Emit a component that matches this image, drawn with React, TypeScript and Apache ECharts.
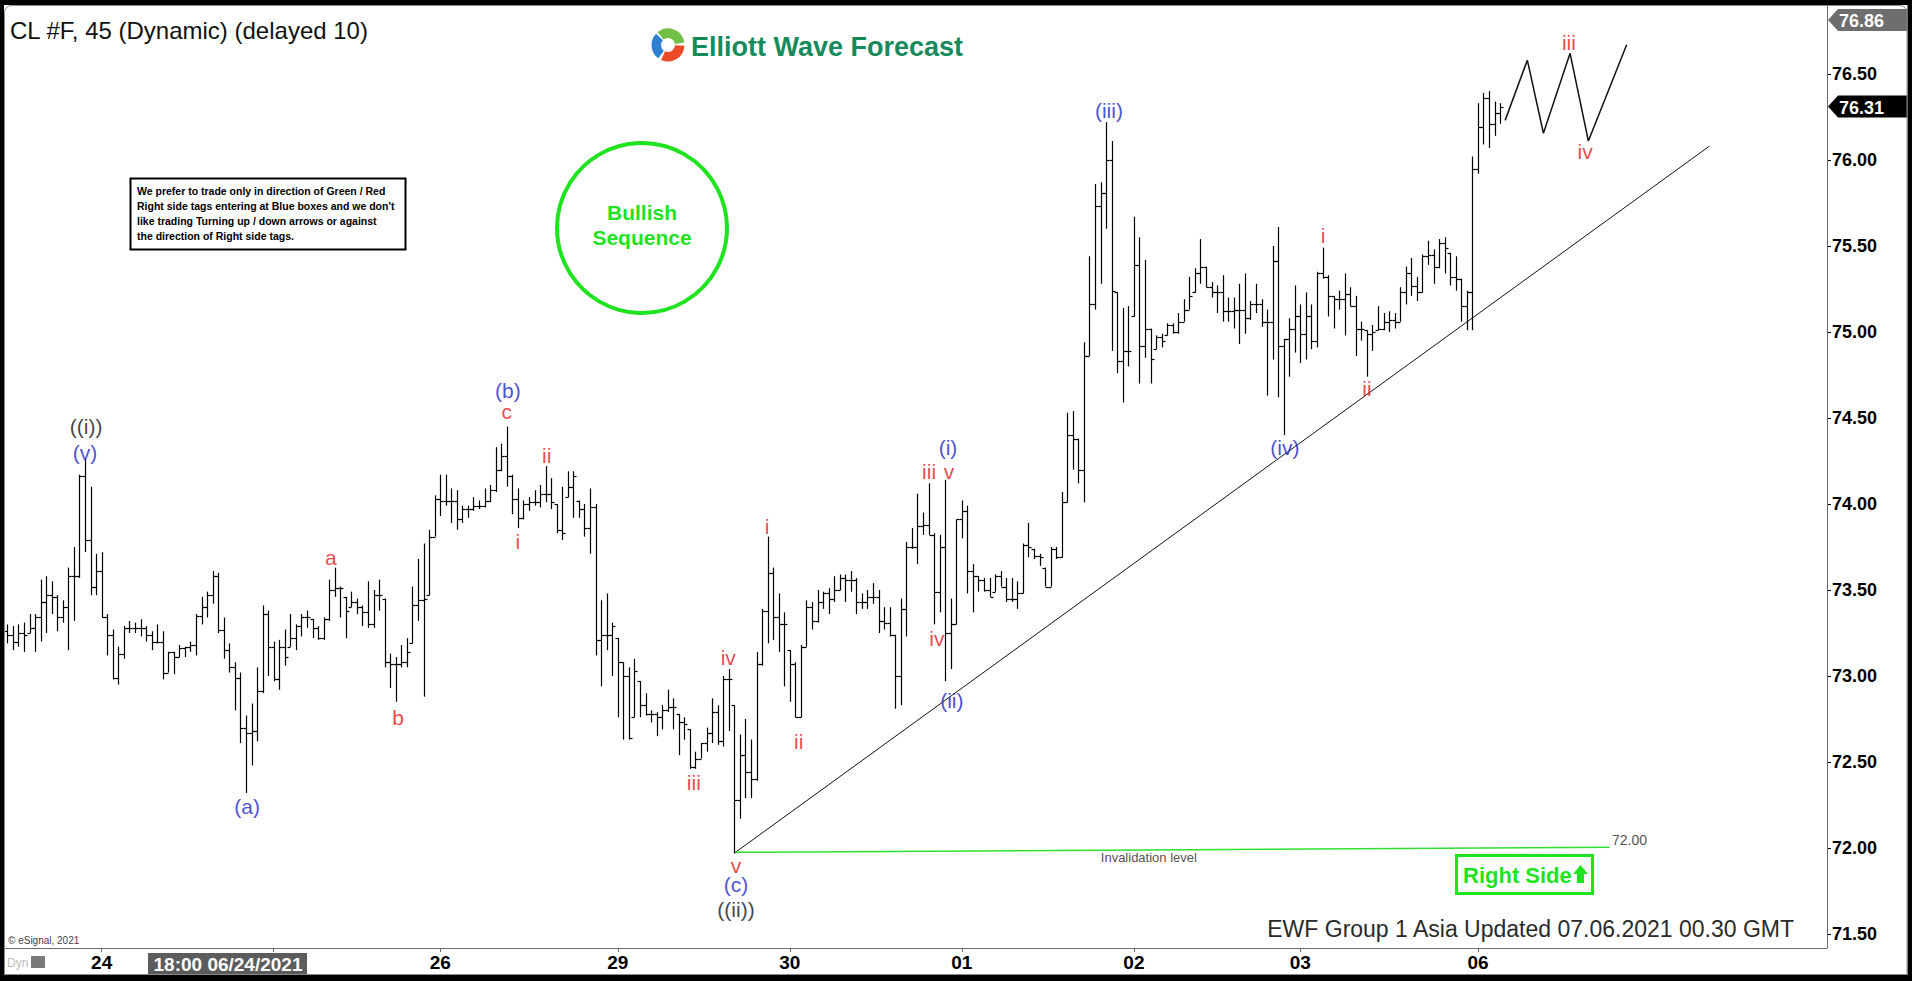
import React, { useEffect, useRef } from "react";
import * as echarts from "echarts";

const FONT = "'Liberation Sans', Arial, Helvetica, sans-serif";

// ---- OHLC bars (45 min), one entry per bar ----
const barOpen = [
73.26,73.24,73.20,73.25,73.25,73.28,73.34,73.43,73.47,73.46,73.34,73.40,73.58,73.58,74.16,73.79,73.52,73.61,73.34,73.24,
72.99,73.13,73.28,73.28,73.28,73.28,73.24,73.20,73.20,73.02,73.14,73.11,73.16,73.17,73.18,73.35,73.40,73.47,73.58,73.27,
73.15,73.05,72.99,72.70,72.67,72.68,72.91,73.36,73.17,72.98,73.17,73.17,73.22,73.29,73.34,73.33,73.28,73.22,73.33,73.50,
73.51,73.46,73.40,73.43,73.40,73.37,73.30,73.47,73.45,73.08,73.07,73.07,73.08,73.19,73.41,73.44,73.47,73.81,74.03,74.02,
74.02,74.02,73.91,73.97,73.97,73.99,73.99,74.02,74.08,74.20,74.28,74.16,74.03,73.92,74.00,74.01,74.01,74.06,74.06,74.00,
73.85,74.04,74.10,74.02,73.97,73.86,73.98,73.21,73.24,73.24,73.22,73.08,73.00,72.76,72.97,72.83,72.78,72.78,72.76,72.80,
72.82,72.78,72.73,72.69,72.47,72.52,72.61,72.67,72.79,72.62,72.98,72.83,72.28,72.54,72.44,72.40,73.07,73.38,73.60,73.34,
73.30,73.15,73.07,72.76,73.17,73.40,73.32,73.43,73.48,73.45,73.50,73.57,73.56,73.56,73.43,73.43,73.46,73.46,73.32,73.31,
73.24,73.00,73.39,73.75,73.75,73.87,73.88,73.82,73.49,73.75,73.25,73.30,73.91,73.96,73.61,73.58,73.56,73.50,73.49,73.58,
73.52,73.45,73.45,73.48,73.76,73.74,73.70,73.63,73.52,73.74,73.69,74.01,74.40,74.38,74.20,74.86,75.16,75.73,75.81,76.00,
75.23,74.83,74.89,75.09,75.39,74.92,75.02,74.90,74.97,74.98,75.04,75.00,75.06,75.13,75.23,75.34,75.38,75.26,75.23,75.23,
75.12,75.12,75.13,75.13,75.08,75.16,75.16,75.06,75.06,75.41,74.92,74.96,75.02,75.09,74.99,75.09,74.95,75.34,75.32,75.21,
75.19,75.19,75.22,75.15,75.02,75.01,74.99,75.01,75.02,75.06,75.07,75.06,75.23,75.34,75.27,75.23,75.44,75.45,75.38,75.52,
75.46,75.32,75.31,75.15,75.23,75.95,76.19,76.36,76.21,76.27];
const barHigh = [
73.30,73.29,73.30,73.31,73.36,73.36,73.56,73.58,73.55,73.47,73.44,73.63,73.75,74.17,74.26,74.10,73.71,73.72,73.36,73.27,
73.17,73.29,73.32,73.31,73.33,73.29,73.26,73.30,73.26,73.14,73.14,73.18,73.17,73.20,73.36,73.46,73.49,73.61,73.60,73.34,
73.19,73.08,73.02,72.77,72.84,73.05,73.41,73.38,73.20,73.21,73.27,73.36,73.30,73.36,73.38,73.33,73.29,73.34,73.56,73.63,
73.52,73.46,73.49,73.45,73.41,73.55,73.50,73.56,73.45,73.13,73.11,73.18,73.22,73.52,73.68,73.77,73.85,74.05,74.17,74.17,
74.09,74.08,73.99,73.99,74.04,74.02,74.09,74.11,74.33,74.35,74.45,74.17,74.09,74.02,74.04,74.08,74.11,74.22,74.15,74.00,
74.10,74.19,74.19,74.02,74.00,74.09,74.00,73.44,73.48,73.31,73.22,73.08,73.05,73.10,72.97,72.90,72.80,72.79,72.83,72.92,
72.87,72.78,72.76,72.69,72.56,72.61,72.70,72.87,72.83,73.00,73.04,72.83,72.66,72.75,72.63,73.14,73.39,73.81,73.63,73.48,
73.37,73.15,73.08,73.18,73.44,73.43,73.50,73.49,73.51,73.58,73.59,73.59,73.61,73.57,73.48,73.50,73.54,73.50,73.40,73.40,
73.24,73.45,73.78,73.86,74.06,73.95,74.12,73.83,73.82,74.14,73.45,73.91,74.02,73.99,73.65,73.58,73.57,73.57,73.59,73.61,
73.57,73.57,73.55,73.77,73.89,73.74,73.71,73.63,73.75,73.75,74.07,74.53,74.54,74.38,74.94,75.44,75.86,75.87,76.22,76.11,
75.23,75.14,75.15,75.67,75.55,75.42,75.02,74.98,74.99,75.05,75.05,75.11,75.19,75.32,75.37,75.54,75.38,75.29,75.27,75.33,
75.20,75.20,75.28,75.34,75.18,75.28,75.19,75.13,75.50,75.61,74.96,75.08,75.27,75.16,75.23,75.16,75.35,75.49,75.33,75.21,
75.24,75.34,75.26,75.21,75.06,75.01,75.04,75.15,75.11,75.12,75.11,75.26,75.38,75.43,75.32,75.45,75.53,75.48,75.54,75.55,
75.46,75.44,75.31,75.24,76.02,76.33,76.39,76.40,76.34,76.33];
const barLow = [
73.19,73.15,73.17,73.14,73.25,73.14,73.20,73.25,73.36,73.26,73.31,73.15,73.32,73.57,73.72,73.47,73.47,73.34,73.12,72.98,
72.95,73.10,73.25,73.25,73.23,73.20,73.15,73.19,72.98,73.02,73.01,73.11,73.11,73.14,73.12,73.30,73.34,73.42,73.25,73.10,
73.02,72.80,72.61,72.32,72.48,72.62,72.90,73.00,72.97,72.92,73.06,73.17,73.15,73.23,73.28,73.22,73.21,73.21,73.32,73.46,
73.34,73.22,73.40,73.36,73.29,73.28,73.28,73.38,73.05,72.93,72.85,73.05,73.05,73.19,73.32,72.88,73.47,73.81,73.93,73.99,
73.89,73.85,73.89,73.92,73.96,73.97,73.98,74.01,74.07,74.19,74.10,73.94,73.86,73.91,73.96,73.99,73.98,74.01,73.97,73.83,
73.79,74.04,73.92,73.92,73.81,73.71,73.12,72.94,73.15,73.00,72.76,72.63,72.63,72.76,72.76,72.77,72.73,72.65,72.69,72.79,
72.69,72.54,72.63,72.46,72.46,72.52,72.56,72.61,72.60,72.59,72.68,71.97,72.17,72.29,72.29,72.39,73.06,73.19,73.21,73.14,
72.94,72.85,72.76,72.76,73.17,73.27,73.31,73.39,73.36,73.43,73.50,73.43,73.49,73.36,73.39,73.39,73.42,73.25,73.27,73.23,
72.81,72.83,73.23,73.74,73.65,73.82,73.82,73.30,73.37,72.97,73.04,73.30,73.80,73.48,73.37,73.49,73.49,73.46,73.49,73.52,
73.43,73.43,73.39,73.48,73.69,73.68,73.64,73.52,73.52,73.68,73.69,74.01,74.20,74.12,74.01,74.86,75.13,75.28,75.60,74.89,
74.76,74.59,74.80,75.09,74.70,74.85,74.70,74.90,74.91,74.98,74.99,74.99,75.06,75.13,75.23,75.28,75.26,75.20,75.11,75.06,
75.06,75.02,74.93,74.99,75.07,75.11,75.03,74.63,74.84,74.62,74.40,74.74,74.88,74.82,74.84,74.90,74.91,75.31,75.09,75.02,
75.13,74.98,75.15,74.86,74.95,74.74,74.89,75.01,75.01,75.00,75.02,75.06,75.16,75.21,75.18,75.23,75.39,75.28,75.37,75.34,
75.27,75.24,75.06,75.01,75.01,75.92,76.09,76.07,76.14,76.21];
const barClose = [
73.24,73.20,73.25,73.24,73.28,73.34,73.43,73.47,73.46,73.34,73.40,73.58,73.58,74.16,73.79,73.52,73.61,73.34,73.24,72.99,
73.13,73.28,73.28,73.28,73.28,73.24,73.20,73.20,73.02,73.14,73.11,73.16,73.17,73.18,73.35,73.40,73.47,73.58,73.27,73.15,
73.05,72.99,72.70,72.67,72.68,72.91,73.36,73.17,72.98,73.17,73.11,73.22,73.29,73.34,73.34,73.28,73.22,73.33,73.50,73.51,
73.51,73.38,73.43,73.40,73.37,73.30,73.47,73.47,73.08,73.07,73.07,73.08,73.14,73.41,73.44,73.45,73.81,74.03,74.02,74.02,
74.02,73.91,73.97,73.97,73.99,73.99,74.02,74.08,74.20,74.28,74.16,74.03,73.92,74.00,74.01,74.01,74.06,74.06,74.01,73.85,
73.83,74.10,74.16,73.97,73.86,73.98,73.21,73.24,73.24,73.29,73.08,73.00,72.64,73.03,72.83,72.78,72.78,72.76,72.80,72.82,
72.82,72.73,72.72,72.47,72.52,72.61,72.67,72.79,72.62,72.98,72.98,72.28,72.54,72.44,72.40,73.07,73.38,73.60,73.34,73.30,
73.30,73.07,72.76,73.17,73.40,73.32,73.43,73.48,73.45,73.50,73.57,73.56,73.56,73.43,73.43,73.46,73.46,73.32,73.31,73.24,
73.00,73.39,73.75,73.75,73.87,73.88,73.82,73.49,73.75,73.25,73.30,73.91,73.96,73.61,73.58,73.56,73.50,73.46,73.58,73.52,
73.45,73.45,73.48,73.76,73.75,73.70,73.69,73.52,73.74,73.69,74.01,74.40,74.38,74.20,74.86,75.16,75.73,75.81,76.00,75.24,
74.83,74.89,74.89,75.39,74.92,75.02,74.84,74.97,74.95,75.04,75.00,75.06,75.13,75.21,75.34,75.38,75.26,75.23,75.23,75.12,
75.12,75.13,75.13,75.08,75.16,75.16,75.06,75.06,75.41,74.92,74.96,75.02,75.09,74.99,75.09,74.95,75.34,75.32,75.21,75.19,
75.19,75.22,75.15,75.02,75.02,74.99,75.00,75.02,75.06,75.07,75.06,75.23,75.34,75.27,75.23,75.44,75.45,75.38,75.52,75.49,
75.32,75.31,75.15,75.23,75.95,76.19,76.36,76.21,76.27,76.31];

// ---- x axis (bar index of each session start); the 25th label sits under the cursor box ----
const dayTickBars = [17, 48, 78, 110, 141, 172, 203, 233, 265];
const dayTickLabels = ["24", "", "26", "29", "30", "01", "02", "03", "06"];
const cursorLabel = "18:00 06/24/2021";

// ---- price tags ----
const highTagPrice = 76.86;
const lastPrice = 76.31;

// ---- Elliott wave labels ----
const waveText = ["((i))", "(v)", "(a)", "a", "b", "(b)", "c", "i", "ii", "iii", "iv", "v", "(c)", "((ii))",
  "i", "ii", "iii", "iv", "v", "(i)", "(ii)", "(iii)", "(iv)", "i", "ii", "iii", "iv"];
const waveBar = [14.2, 14.0, 43.2, 58.3, 70.4, 90.2, 90.0, 92.0, 97.2, 123.7, 129.9, 131.3, 131.3, 131.3,
  136.9, 142.6, 166.1, 167.5, 169.7, 169.5, 170.2, 198.5, 230.2, 237.1, 245.0, 281.4, 284.3];
const wavePrice = [74.45, 74.30, 72.24, 73.69, 72.76, 74.66, 74.54, 73.78, 74.28, 72.38, 73.11, 71.90, 71.785, 71.64,
  73.87, 72.62, 74.19, 73.22, 74.19, 74.33, 72.86, 76.285, 74.33, 75.56, 74.67, 76.68, 76.05];
const waveDegree = ["minor", "minute", "minute", "minuette", "minuette", "minute", "minuette", "minuette", "minuette",
  "minuette", "minuette", "minuette", "minute", "minor", "minuette", "minuette", "minuette", "minuette", "minuette",
  "minute", "minute", "minute", "minute", "minuette", "minuette", "minuette", "minuette"];
const degreeColor: Record<string, string> = { minor: "#111111", minute: "#1b22c6", minuette: "#e3161b" };

// ---- drawn lines ----
const trendBar = [131, 306.7];
const trendPrice = [71.97, 76.08];
const invalidationBar = [131.3, 288.7];
const invalidationPrice = [71.975, 72.005];
const projectionBar = [269.9, 273.9, 276.8, 281.6, 284.9, 291.8];
const projectionPrice = [76.23, 76.58, 76.155, 76.62, 76.11, 76.67];

const noteText = ["We prefer to trade only in direction of Green / Red",
  "Right side tags entering at Blue boxes and we don't",
  "like trading Turning up / down arrows or against",
  "the direction of Right side tags."];
const annotationText = ["72.00", "Invalidation level"];
const annotationBar = [292.3, 205.7];
const annotationPrice = [72.047, 71.942];
const annotationSize = [14, 13];

const GREEN = "#1ee31e";

function buildGraphic(chart: any) {
  const yOf = (v: number) => chart.convertToPixel({ yAxisIndex: 0 }, v) as number;
  const yHigh = Math.max(yOf(highTagPrice), 20);
  const yLast = yOf(lastPrice);
  const tag = (yc: number, fill: string, text: string) => [
    {
      type: "polygon", z: 150,
      shape: { points: [[1828, yc], [1838, yc - 11], [1907.5, yc - 11], [1907.5, yc + 11], [1838, yc + 11]] },
      style: { fill },
    },
    {
      type: "text", z: 151, x: 1839, y: yc + 1,
      style: { text, fill: "#fff", fontFamily: FONT, fontWeight: "bold", fontSize: 18, align: "left", verticalAlign: "middle" },
    },
  ];
  const cx = 668, cy = 45;
  return [
    // frame
    { type: "rect", z: 200, shape: { x: 0, y: 0, width: 1912, height: 5 }, style: { fill: "#000" } },
    { type: "rect", z: 200, shape: { x: 0, y: 0, width: 4, height: 981 }, style: { fill: "#000" } },
    { type: "rect", z: 200, shape: { x: 1907.5, y: 0, width: 4.5, height: 981 }, style: { fill: "#000" } },
    { type: "rect", z: 200, shape: { x: 0, y: 975, width: 1912, height: 6 }, style: { fill: "#000" } },
    { type: "rect", z: 201, shape: { x: 4.5, y: 5.5, width: 1902.5, height: 969, r: [7, 7, 0, 0] }, style: { fill: "none", stroke: "#8a8a8a", lineWidth: 1 } },
    { type: "line", z: 120, shape: { x1: 1827.5, y1: 5, x2: 1827.5, y2: 948 }, style: { stroke: "#6a6a6a", lineWidth: 1 } },
    // title
    { type: "text", z: 120, x: 10, y: 30, style: { text: "CL #F, 45 (Dynamic) (delayed 10)", fill: "#111", fontFamily: FONT, fontSize: 24, align: "left", verticalAlign: "middle" } },
    // logo
    { type: "sector", z: 120, shape: { cx, cy, r: 16.5, r0: 7, startAngle: -2.25, endAngle: -0.15 }, style: { fill: "#71bf45" } },
    { type: "sector", z: 120, shape: { cx, cy, r: 16.5, r0: 7, startAngle: 0.05, endAngle: 2.0 }, style: { fill: "#ec4a26" } },
    { type: "sector", z: 120, shape: { cx, cy, r: 16.5, r0: 7, startAngle: 2.2, endAngle: 3.9 }, style: { fill: "#2f7fd3" } },
    { type: "text", z: 120, x: 691, y: 47, style: { text: "Elliott Wave Forecast", fill: "#168a5a", fontFamily: FONT, fontWeight: "bold", fontSize: 27, align: "left", verticalAlign: "middle" } },
    // note box
    { type: "rect", z: 120, shape: { x: 130.5, y: 178.5, width: 275, height: 71 }, style: { fill: "#fff", stroke: "#000", lineWidth: 2 } },
    { type: "text", z: 121, x: 137, y: 183, style: { text: noteText.join("\n"), fill: "#000", fontFamily: FONT, fontWeight: "bold", fontSize: 10.5, lineHeight: 15, align: "left", verticalAlign: "top" } },
    // bullish sequence
    { type: "circle", z: 120, shape: { cx: 642, cy: 228, r: 85 }, style: { fill: "none", stroke: GREEN, lineWidth: 4 } },
    { type: "text", z: 121, x: 642, y: 225, style: { text: "Bullish\nSequence", fill: GREEN, fontFamily: FONT, fontWeight: "bold", fontSize: 21, lineHeight: 25, align: "center", verticalAlign: "middle" } },
    // right side tag
    { type: "rect", z: 120, shape: { x: 1456.5, y: 855.5, width: 136, height: 38 }, style: { fill: "#fff", stroke: GREEN, lineWidth: 3 } },
    { type: "text", z: 121, x: 1463, y: 875, style: { text: "Right Side", fill: GREEN, fontFamily: FONT, fontWeight: "bold", fontSize: 22, align: "left", verticalAlign: "middle" } },
    { type: "polygon", z: 121, shape: { points: [[1573, 874], [1580.5, 865], [1588, 874], [1584, 874], [1584, 883], [1577, 883], [1577, 874]] }, style: { fill: GREEN } },
    // update stamp
    { type: "text", z: 120, x: 1794, y: 929, style: { text: "EWF Group 1 Asia Updated 07.06.2021 00.30 GMT", fill: "#2a2a2a", fontFamily: FONT, fontSize: 23, align: "right", verticalAlign: "middle", textShadowColor: "#b0b0b0", textShadowOffsetX: 2, textShadowOffsetY: 2, textShadowBlur: 0 } },
    { type: "text", z: 120, x: 8, y: 940, style: { text: "© eSignal, 2021", fill: "#444", fontFamily: FONT, fontSize: 10, align: "left", verticalAlign: "middle" } },
    // bottom-left
    { type: "text", z: 120, x: 7, y: 963, style: { text: "Dyn", fill: "#bdbdbd", fontFamily: FONT, fontSize: 12, align: "left", verticalAlign: "middle" } },
    { type: "rect", z: 120, shape: { x: 31, y: 956, width: 14, height: 12 }, style: { fill: "#7a7a7a" } },
    { type: "rect", z: 150, shape: { x: 148, y: 953, width: 159, height: 22 }, style: { fill: "#5c5c5c" } },
    { type: "text", z: 151, x: 228, y: 964.5, style: { text: cursorLabel, fill: "#fff", fontFamily: FONT, fontWeight: "bold", fontSize: 19, align: "center", verticalAlign: "middle" } },
    ...tag(yHigh, "#6e6e6e", highTagPrice.toFixed(2)),
    ...tag(yLast, "#000", lastPrice.toFixed(2)),
  ];
}

export default function App() {
  const ref = useRef<HTMLDivElement>(null);
  useEffect(() => {
    if (!ref.current) return;
    const chart = echarts.init(ref.current, null, { renderer: "svg" });
    const bars = barOpen.map((o, i) => [i, o, barHigh[i], barLow[i], barClose[i]]);
    const waves = waveText.map((t, i) => ({
      name: t,
      value: [waveBar[i], wavePrice[i]],
      label: { color: degreeColor[waveDegree[i]] },
    }));
    const notes = annotationText.map((t, i) => ({
      name: t,
      value: [annotationBar[i], annotationPrice[i]],
      label: { fontSize: annotationSize[i] },
    }));
    const option: any = {
      animation: false,
      backgroundColor: "#fff",
      grid: { left: 4, right: 85, top: 12, bottom: 47 },
      xAxis: {
        type: "value", min: -0.6, max: 327.9, offset: 14,
        axisLine: { show: true, onZero: false, lineStyle: { color: "#6a6a6a", width: 1 } },
        axisTick: { show: true, customValues: dayTickBars, length: 4, lineStyle: { color: "#6a6a6a" } },
        axisLabel: {
          show: true, customValues: dayTickBars, margin: 5,
          formatter: (v: number) => { const k = dayTickBars.indexOf(Math.round(v)); return k >= 0 ? dayTickLabels[k] : ""; },
          fontFamily: FONT, fontWeight: "bold", fontSize: 19, color: "#000",
        },
        splitLine: { show: false },
      },
      yAxis: {
        type: "value", position: "right", min: 71.5, max: highTagPrice, interval: 0.5,
        axisLine: { show: false, onZero: false },
        axisTick: { show: true, length: 4, lineStyle: { color: "#000" } },
        axisLabel: {
          margin: 5, fontFamily: FONT, fontWeight: "bold", fontSize: 18, color: "#000", showMaxLabel: false,
          formatter: (v: number) => (Math.abs(v * 2 - Math.round(v * 2)) < 1e-6 ? v.toFixed(2) : ""),
        },
        splitLine: { show: false },
      },
      series: [
        {
          type: "custom", name: "CL #F", data: bars, encode: { x: 0, y: [1, 2, 3, 4] }, z: 5,
          renderItem: (params: any, api: any) => {
            const x = api.value(0);
            const hi = api.coord([x, api.value(2)]);
            const lo = api.coord([x, api.value(3)]);
            const op = api.coord([x, api.value(1)]);
            const cl = api.coord([x, api.value(4)]);
            const px = Math.round(hi[0]) + 0.5;
            const st = { stroke: "#000", lineWidth: 1.2 };
            const yo = Math.round(op[1]) + 0.5, yc = Math.round(cl[1]) + 0.5;
            return {
              type: "group",
              children: [
                { type: "line", shape: { x1: px, y1: hi[1], x2: px, y2: lo[1] }, style: st },
                { type: "line", shape: { x1: px - 3, y1: yo, x2: px, y2: yo }, style: st },
                { type: "line", shape: { x1: px, y1: yc, x2: px + 3, y2: yc }, style: st },
              ],
            };
          },
        },
        {
          type: "line", name: "trend", data: trendBar.map((b, i) => [b, trendPrice[i]]),
          symbol: "none", lineStyle: { color: "#111", width: 1 }, z: 4, silent: true,
        },
        {
          type: "line", name: "invalidation", data: invalidationBar.map((b, i) => [b, invalidationPrice[i]]),
          symbol: "none", lineStyle: { color: "#2fe02f", width: 1.5 }, z: 4, silent: true,
        },
        {
          type: "line", name: "projection", data: projectionBar.map((b, i) => [b, projectionPrice[i]]),
          symbol: "none", lineStyle: { color: "#111", width: 1.5 }, z: 4, silent: true,
        },
        {
          type: "scatter", name: "waves", data: waves, symbolSize: 1, itemStyle: { color: "transparent" }, z: 10, silent: true,
          label: { show: true, position: "inside", formatter: (p: any) => p.name, fontFamily: FONT, fontSize: 21 },
        },
        {
          type: "scatter", name: "notes", data: notes, symbolSize: 1, itemStyle: { color: "transparent" }, z: 10, silent: true,
          label: { show: true, position: "inside", formatter: (p: any) => p.name, fontFamily: FONT, color: "#222" },
        },
      ],
    };
    chart.setOption(option);
    chart.setOption({ graphic: buildGraphic(chart) });
    return () => chart.dispose();
  }, []);
  return <div ref={ref} style={{ position: "absolute", left: 0, top: 0, width: 1912, height: 981, background: "#fff" }} />;
}
